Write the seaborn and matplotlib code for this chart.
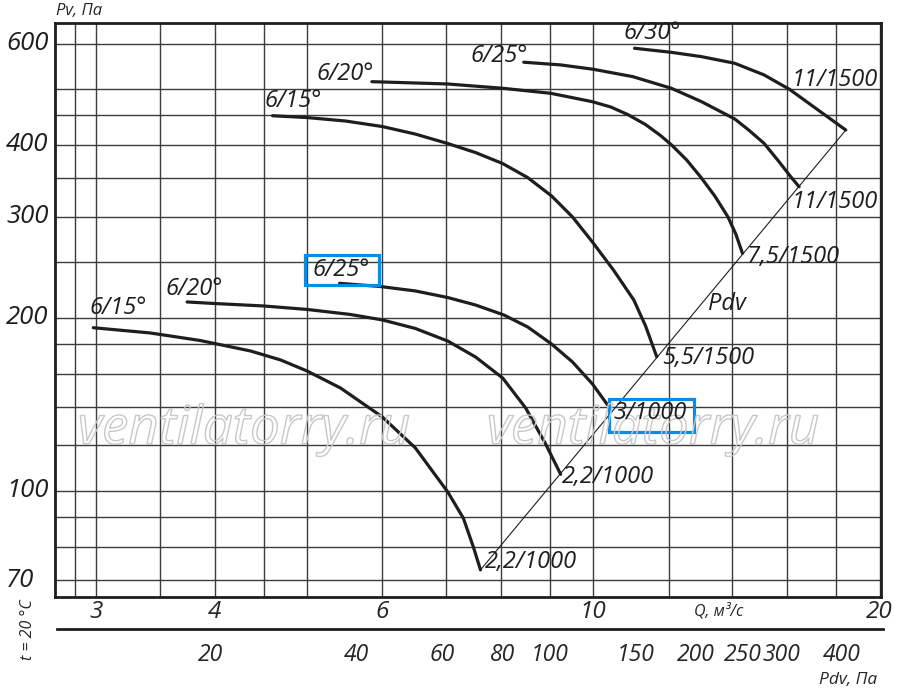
## fan performance chart, log-log, two speed groups
import seaborn as sns
from matplotlib import pyplot as plt
from matplotlib import patheffects
from matplotlib.patches import Rectangle
from matplotlib.ticker import NullFormatter
import pandas as pd

sns.set_style('white')
plt.rcParams['font.family'] = ['Open Sans', 'DejaVu Sans']
plt.rcParams['font.style'] = 'italic'

## DATA
# 1000 rpm group
q_1000_15 = [2.98, 3.42, 3.86, 4.36, 4.69, 5.0, 5.42, 6.0, 6.5, 7.03, 7.3, 7.48, 7.61]
p_1000_15 = [192.3, 188.3, 182.7, 175.2, 169.0, 161.7, 151.1, 134.5, 118.8, 99.6, 89.7, 79.9, 72.9]
q_1000_20 = [3.74, 3.99, 4.5, 5.0, 5.55, 6.0, 6.5, 7.03, 7.52, 8.03, 8.49, 8.91, 9.24]
p_1000_20 = [213.2, 211.9, 209.8, 206.9, 202.8, 198.4, 191.7, 182.3, 171.0, 157.2, 139.4, 120.7, 106.9]
q_1000_25 = [5.41, 5.97, 6.5, 7.03, 7.52, 8.05, 8.53, 9.04, 9.51, 9.98, 10.35]
p_1000_25 = [229.7, 226.8, 222.8, 217.0, 210.6, 202.4, 192.9, 180.1, 167.6, 153.5, 141.2]
# 1500 rpm group
q_1500_15 = [4.6, 5.0, 5.49, 6.0, 6.5, 7.03, 7.52, 8.03, 8.53, 9.04, 9.51, 9.98,
             10.5, 11.03, 11.35, 11.66]
p_1500_15 = [449.4, 446.2, 440.0, 430.4, 417.6, 402.1, 387.8, 371.1, 350.9, 325.9,
             299.6, 271.0, 242.3, 214.9, 193.6, 171.2]
q_1500_20 = [5.85, 6.0, 7.03, 8.03, 9.02, 9.98, 10.43, 10.87, 11.35, 11.77, 12.09,
             12.54, 12.97, 13.42, 13.85, 14.12, 14.35]
p_1500_20 = [515.1, 514.5, 510.4, 501.7, 491.7, 475.4, 465.5, 451.6, 433.8, 415.1,
             399.6, 376.3, 351.6, 325.9, 300.0, 279.9, 259.1]
q_1500_25 = [8.45, 9.24, 9.99, 11.0, 12.08, 13.0, 14.09, 14.57, 15.12, 15.63, 16.13, 16.46]
p_1500_25 = [556.9, 550.9, 541.5, 525.7, 501.7, 475.4, 443.5, 424.4, 402.4, 376.3, 352.0, 338.2]
q_1500_30 = [11.05, 12.07, 13.0, 14.08, 15.12, 16.09, 17.06, 18.43]
p_1500_30 = [588.9, 579.5, 569.4, 554.6, 529.3, 499.3, 465.5, 424.4]
# dynamic pressure line end points
pdv_q = [7.61, 18.43]
pdv_p = [72.9, 424.4]

# axis ticks / grid
q_ticks = [3, 4, 6, 10, 20]
q_grid = [2.85, 3.5, 4.5, 5, 7, 8, 9, 12, 14, 16, 18]
p_ticks = [70, 100, 200, 300, 400, 600]
p_grid = [80, 90, 120, 140, 160, 180, 250, 350, 450, 500]
pdv_ticks = [20, 40, 60, 80, 100, 150, 200, 250, 300, 400]

curves = {
    '1000_15': (q_1000_15, p_1000_15), '1000_20': (q_1000_20, p_1000_20),
    '1000_25': (q_1000_25, p_1000_25), '1500_15': (q_1500_15, p_1500_15),
    '1500_20': (q_1500_20, p_1500_20), '1500_25': (q_1500_25, p_1500_25),
    '1500_30': (q_1500_30, p_1500_30),
}
df = pd.concat([pd.DataFrame({'Q': q, 'P': p, 'curve': name})
                for name, (q, p) in curves.items()], ignore_index=True)

W, H = 900, 694
def fx(x):
    return x / W
def fy(y):
    return 1 - y / H

fig = plt.figure(figsize=(9, 6.94), dpi=100)
ax = fig.add_axes([fx(55), fy(597), 826 / W, 574 / H])
ax.set_xscale('log')
ax.set_yscale('log')
ax.set_xlim(2.716, 20.07)
ax.set_ylim(65.4, 651.6)

## grid
ax.set_xticks(q_ticks, [str(t) for t in q_ticks])
ax.set_xticks(q_grid, minor=True)
ax.set_yticks(p_ticks, [''] * len(p_ticks))
ax.set_yticks(p_grid, minor=True)
ax.xaxis.set_minor_formatter(NullFormatter())
ax.yaxis.set_minor_formatter(NullFormatter())
ax.grid(which='both', color='#3c3c3c', linewidth=1.0)
ax.tick_params(which='both', length=0)
ax.tick_params(axis='x', labelsize=17.5, pad=2)
for lbl in ax.get_xticklabels():
    lbl.set_style('italic')
for s in ax.spines.values():
    s.set_linewidth(2.0)
    s.set_color('#1e1e1e')

# y labels left aligned at the figure edge
for t in p_ticks:
    ax.text(-0.0593, t, str(t), transform=ax.get_yaxis_transform(),
            ha='left', va='center', fontsize=18.5, style='italic', color='#1e1e1e')

## watermark (outlined letters)
for cx in (244, 653):
    fig.text(fx(cx), fy(430), 'ventilatorry.ru', ha='center', va='center',
             fontsize=38, style='italic', color=(1, 1, 1, 0),
             path_effects=[patheffects.withStroke(linewidth=1.0, foreground='#c8c8c8')],
             zorder=1)

## curves
sns.lineplot(x=pdv_q, y=pdv_p, color='#1e1e1e', linewidth=0.8, ax=ax)
sns.lineplot(data=df, x='Q', y='P', units='curve', estimator=None, sort=False,
             color='#1e1e1e', linewidth=2.3, ax=ax)
ax.set_xlabel('')
ax.set_ylabel('')

## curve labels
labels = [
    ('6/15°', 118, 308), ('6/20°', 194, 289), ('6/25°', 341, 270),
    ('6/15°', 293, 101), ('6/20°', 345, 74), ('6/25°', 499, 56), ('6/30°', 652, 33),
    ('11/1500', 835, 80), ('11/1500', 835, 202), ('7,5/1500', 793, 257),
    ('Pdv', 727, 304), ('5,5/1500', 708, 358), ('3/1000', 650, 413),
    ('2,2/1000', 608, 477), ('2,2/1000', 531, 562),
]
for txt, x, y in labels:
    fig.text(fx(x), fy(y), txt, ha='center', va='center', fontsize=17,
             style='italic', color='#1e1e1e')

# highlighted boxes
for x0, y0, x1, y1 in [(304.5, 255.5, 378.5, 285.5), (608.5, 398.5, 693.5, 431.5)]:
    fig.add_artist(Rectangle((fx(x0), fy(y1)), (x1 - x0) / W, (y1 - y0) / H,
                             transform=fig.transFigure, fill=False,
                             edgecolor='#0a8de0', linewidth=2.3))

## axis titles
fig.text(fx(56), fy(11), 'Pv, Па', ha='left', va='center', fontsize=12, style='italic')
fig.text(fx(719), fy(611), 'Q, м³/с', ha='center', va='center', fontsize=11.5, style='italic')
fig.text(fx(848), fy(680), 'Pdv, Па', ha='center', va='center', fontsize=12.5, style='italic')
fig.text(fx(28), fy(630), 't = 20 °C', ha='center', va='center', fontsize=11.5,
         style='italic', rotation=90)

## secondary Pdv scale
ax2 = fig.add_axes([fx(57), fy(629), 826 / W, 0.0001])
ax2.set_xscale('log')
ax2.set_xlim(9.65, 485.8)
ax2.set_yticks([])
ax2.set_xticks(pdv_ticks, [str(t) for t in pdv_ticks])
ax2.xaxis.set_minor_formatter(NullFormatter())
ax2.tick_params(axis='x', which='minor', length=0)
ax2.tick_params(axis='x', which='major', direction='inout', length=10, width=1.0,
                color='#1e1e1e', labelsize=16.5, pad=5)
for lbl in ax2.get_xticklabels():
    lbl.set_style('italic')
for side in ('left', 'right', 'top'):
    ax2.spines[side].set_visible(False)
ax2.spines['bottom'].set_linewidth(2.0)
ax2.spines['bottom'].set_color('#1e1e1e')
ax2.patch.set_alpha(0)

plt.savefig('out.png', dpi=100)
